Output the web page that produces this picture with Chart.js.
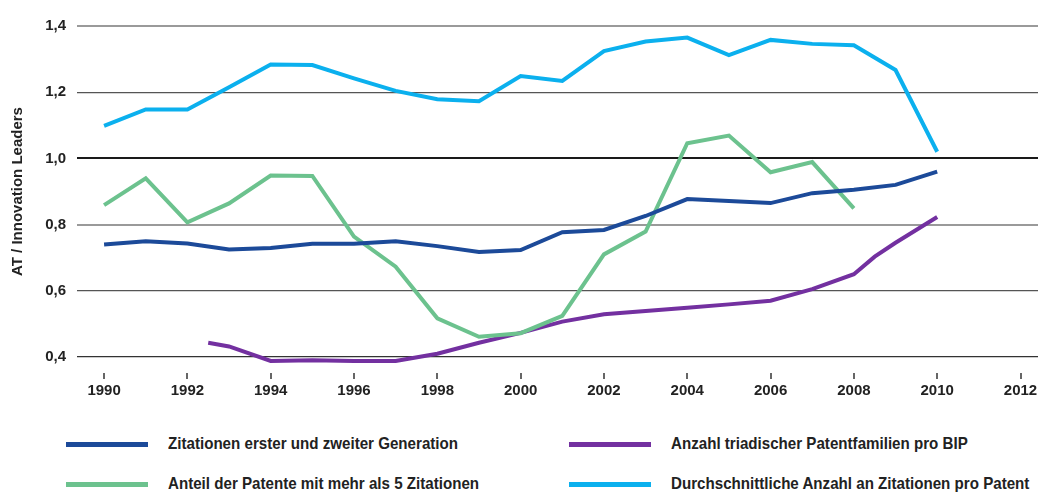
<!DOCTYPE html>
<html>
<head>
<meta charset="utf-8">
<script src="https://cdn.jsdelivr.net/npm/chart.js@4.4.1/dist/chart.umd.min.js"></script>
<style>
  html,body{margin:0;padding:0;background:#fff;}
  #wrap{position:relative;width:1040px;height:493px;overflow:hidden;font-family:'Liberation Sans',Arial,sans-serif;}
  #c{position:absolute;left:0;top:0;}
  .lg{position:absolute;height:24px;width:460px;}
  .lg .sw{position:absolute;left:0;top:10px;width:82px;height:5px;}
  .lg .tx{position:absolute;left:102px;top:0;white-space:nowrap;font-weight:bold;font-size:17px;color:#222;line-height:24px;transform:scaleX(0.89);transform-origin:0 50%;}
</style>
</head>
<body>
<div id="wrap">
  <canvas id="c" width="1040" height="410"></canvas>
  <div id="legend"></div>
</div>
<script>
// ---- data ----
const years = [1990,1991,1992,1993,1994,1995,1996,1997,1998,1999,2000,2001,2002,2003,2004,2005,2006,2007,2008,2009,2010];
const zitationenGen = [0.740,0.750,0.743,0.725,0.729,0.742,0.742,0.750,0.735,0.717,0.723,0.777,0.784,0.826,0.877,0.871,0.865,0.895,0.905,0.920,0.960];
const anteilPatente = [0.859,0.940,0.807,0.864,0.948,0.947,0.764,0.673,0.517,0.461,0.472,0.524,0.710,0.779,1.046,1.069,0.958,0.989,0.849,null,null];
const durchschnittZit = [1.098,1.148,1.148,1.215,1.284,1.282,1.242,1.204,1.179,1.173,1.249,1.234,1.324,1.353,1.365,1.312,1.358,1.346,1.342,1.267,1.020];
const triadYears = [1992.5,1993,1994,1995,1996,1997,1998,1999,2000,2001,2002,2003,2004,2005,2006,2007,2008,2008.5,2009,2010];
const triadValues = [0.443,0.432,0.388,0.390,0.388,0.388,0.410,0.443,0.473,0.507,0.529,0.539,0.549,0.559,0.570,0.605,0.650,0.703,0.745,0.823];
const xTickYears = [1990,1992,1994,1996,1998,2000,2002,2004,2006,2008,2010,2012];
const yTickValues = [0.4,0.6,0.8,1.0,1.2,1.4];
const seriesNames = ['Zitationen erster und zweiter Generation','Anzahl triadischer Patentfamilien pro BIP','Anteil der Patente mit mehr als 5 Zitationen','Durchschnittliche Anzahl an Zitationen pro Patent'];
const yAxisTitle = 'AT / Innovation Leaders';

const COLORS = {blue:'#1c4a99', purple:'#7330a0', green:'#6cc28e', cyan:'#0bb0ee'};
const FONT = "'Liberation Sans',Arial,sans-serif";
const X_MIN = 1989.35, X_MAX = 2012.42, Y_MIN = 0.4, Y_MAX = 1.4;

function pts(xs, ys){ return xs.map((x,i)=>({x:x,y:ys[i]})); }

const datasets = [
  {label:seriesNames[0], data:pts(years,zitationenGen), borderColor:COLORS.blue, order:2},
  {label:seriesNames[1], data:pts(triadYears,triadValues), borderColor:COLORS.purple, order:4},
  {label:seriesNames[2], data:pts(years,anteilPatente), borderColor:COLORS.green, order:3},
  {label:seriesNames[3], data:pts(years,durchschnittZit), borderColor:COLORS.cyan, order:1}
].map(d=>Object.assign(d,{borderWidth:4,pointRadius:0,pointHoverRadius:0,tension:0,fill:false,spanGaps:false,borderJoinStyle:'miter',borderCapStyle:'butt',clip:false}));

const tickMarks = {
  id:'tickMarks',
  afterDraw(chart){
    const s = chart.scales.x, ctx = chart.ctx, b = chart.chartArea.bottom;
    ctx.save();
    ctx.strokeStyle = '#333'; ctx.lineWidth = 1.5;
    s.ticks.forEach(t=>{
      const px = Math.round(s.getPixelForValue(t.value));
      ctx.beginPath(); ctx.moveTo(px, b+16); ctx.lineTo(px, b+22); ctx.stroke();
    });
    ctx.restore();
  }
};

function gridColor(c){
  const v = c.tick ? Math.round(c.tick.value*10)/10 : 0;
  if (v===1.0) return '#1a1a1a';
  if (v===1.4 || v===0.8) return '#9a9a9a';
  if (v===0.4) return '#333';
  return '#555';
}
function gridWidth(c){
  const v = c.tick ? Math.round(c.tick.value*10)/10 : 0;
  if (v===1.0) return 2;
  if (v===1.4 || v===0.8) return 2;
  return 1.2;
}

new Chart(document.getElementById('c'), {
  type:'line',
  data:{datasets:datasets},
  options:{
    responsive:false,
    animation:false,
    events:[],
    layout:{padding:{top:26,right:2,left:0,bottom:0}},
    plugins:{legend:{display:false},tooltip:{enabled:false}},
    scales:{
      x:{
        type:'linear', min:X_MIN, max:X_MAX,
        afterBuildTicks(s){ s.ticks = xTickYears.map(v=>({value:v})); s.min = X_MIN; s.max = X_MAX; },
        afterFit(s){ s.height = 53; s.paddingRight = 0; s.paddingLeft = 0; },
        grid:{display:true, drawOnChartArea:false, drawTicks:true, tickLength:25, tickColor:'rgba(0,0,0,0)'},
        border:{display:false},
        ticks:{padding:0, color:'#222', font:{family:FONT,size:15,weight:'bold'}, maxRotation:0, autoSkip:false,
          callback:(v)=>String(v)}
      },
      y:{
        type:'linear', min:Y_MIN, max:Y_MAX,
        afterBuildTicks(s){ s.ticks = yTickValues.map(v=>({value:v})); s.min = Y_MIN; s.max = Y_MAX; },
        afterFit(s){ s.width = 77; },
        grid:{color:gridColor, lineWidth:gridWidth, drawTicks:false},
        border:{display:false},
        ticks:{padding:11, color:'#222', font:{family:FONT,size:15,weight:'bold'},
          callback:(v)=>v.toFixed(1).replace('.',',')},
        title:{display:true, text:yAxisTitle, color:'#222', font:{family:FONT,size:15,weight:'bold'}, padding:{top:9,bottom:0}}
      }
    }
  },
  plugins:[tickMarks]
});

// ---- HTML legend built from the datasets ----
const legendPos = [[66,432],[569,432],[66,472],[569,472]];
const lg = document.getElementById('legend');
datasets.forEach((d,i)=>{
  const el = document.createElement('div');
  el.className='lg';
  el.style.left = legendPos[i][0]+'px';
  el.style.top = legendPos[i][1]+'px';
  el.innerHTML = '<div class="sw" style="background:'+d.borderColor+'"></div><div class="tx"></div>';
  el.querySelector('.tx').textContent = d.label;
  lg.appendChild(el);
});
</script>
</body>
</html>
